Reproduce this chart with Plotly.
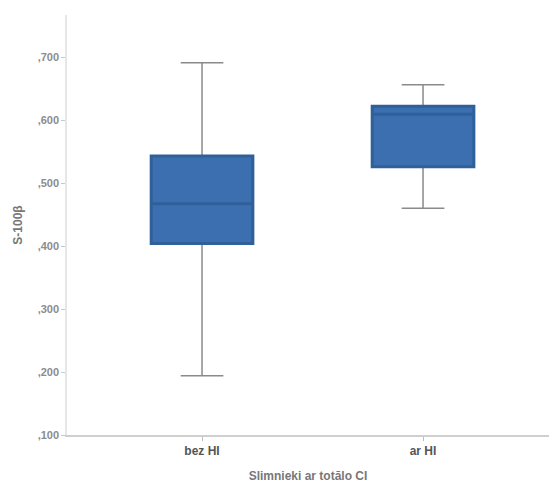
import plotly.graph_objects as go

# Group summary statistics (S-100β by group)
groups = ["bez HI", "ar HI"]
lower_fence = [0.194, 0.460]
q1 = [0.404, 0.526]
median = [0.467, 0.609]
q3 = [0.543, 0.622]
upper_fence = [0.691, 0.656]

y_tickvals = [0.1, 0.2, 0.3, 0.4, 0.5, 0.6, 0.7]
y_ticktext = [",100", ",200", ",300", ",400", ",500", ",600", ",700"]

BOX_FILL = "#3b6fb0"
BOX_LINE = "#30609a"
WHISKER = "#8a8a8a"

fig = go.Figure()

# Whiskers (gray) drawn first
fig.add_trace(go.Box(
    x=groups,
    q1=q1, median=median, q3=q3,
    lowerfence=lower_fence, upperfence=upper_fence,
    fillcolor="rgba(0,0,0,0)",
    line=dict(color=WHISKER, width=1.5),
    whiskerwidth=0.42,
    width=0.46,
    boxpoints=False,
    hoverinfo="skip",
    showlegend=False,
))

# Box body (blue) overlaid on top
fig.add_trace(go.Box(
    x=groups,
    q1=q1, median=median, q3=q3,
    lowerfence=q1, upperfence=q3,
    fillcolor=BOX_FILL,
    line=dict(color=BOX_LINE, width=3),
    whiskerwidth=0,
    width=0.46,
    boxpoints=False,
    showlegend=False,
))

fig.update_layout(
    width=549, height=488,
    margin=dict(l=67, r=0, t=15, b=53),
    paper_bgcolor="white",
    plot_bgcolor="white",
    boxmode="overlay",
    font=dict(family="Liberation Sans, Arial, sans-serif"),
)

fig.update_xaxes(
    type="category",
    range=[-0.611, 1.57],
    showgrid=False,
    showline=True, linecolor="#cfcfcf", linewidth=1.5,
    ticks="outside", ticklen=4, tickcolor="#bdbdbd",
    tickvals=groups, ticktext=["<b>" + g + "</b>" for g in groups],
    tickfont=dict(size=12, color="#555555"),
    title=dict(text="<b>Slimnieki ar totālo CI</b>",
               font=dict(size=12, color="#777777"), standoff=14),
    zeroline=False,
)

fig.update_yaxes(
    range=[0.1, 0.7667],
    showgrid=False,
    showline=True, linecolor="#e6e6e6", linewidth=1.5,
    ticks="outside", ticklen=4, tickcolor="#c8c8c8",
    tickvals=y_tickvals, ticktext=["<b>" + t + "</b>" for t in y_ticktext],
    tickfont=dict(size=11, color="#8c8c8c"),
    title=dict(text="<b>S-100β</b>", font=dict(size=12, color="#777777"), standoff=12),
    zeroline=False,
)

fig.write_html("out.html")
